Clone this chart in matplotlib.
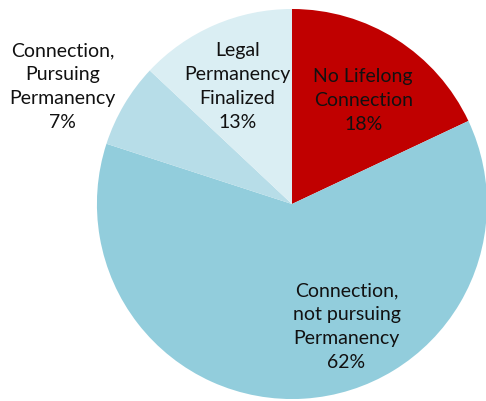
import matplotlib
matplotlib.use("Agg")
import matplotlib.pyplot as plt

plt.rcParams['font.family'] = ['Lato', 'DejaVu Sans']

# Data
labels = ["No Lifelong\nConnection", "Connection,\nnot pursuing\nPermanency",
          "Connection,\nPursuing\nPermanency", "Legal\nPermanency\nFinalized"]
values = [18, 62, 7, 13]
colors = ["#C00000", "#92CDDC", "#B7DDE8", "#DAEEF3"]

# label positions (pie radius = 1)
label_pos = [(0.365, 0.53), (0.28, -0.63), (-1.175, 0.60), (-0.28, 0.60)]

fig = plt.figure(figsize=(4.86, 4.01), dpi=100)
ax = fig.add_axes([0, 0, 1, 1])

ax.pie(values, colors=colors, startangle=90, counterclock=False,
       radius=1.0, center=(0, 0), wedgeprops=dict(linewidth=0))

for lab, v, (x, y) in zip(labels, values, label_pos):
    ax.text(x, y, f"{lab}\n{v}%", ha="center", va="center",
            fontsize=14, color="#111111", linespacing=1.5)

ax.set_xlim(-1.497, 0.995)
ax.set_ylim(-1.010, 1.046)
ax.set_aspect("equal")
ax.axis("off")

plt.savefig("out.png", dpi=100)
